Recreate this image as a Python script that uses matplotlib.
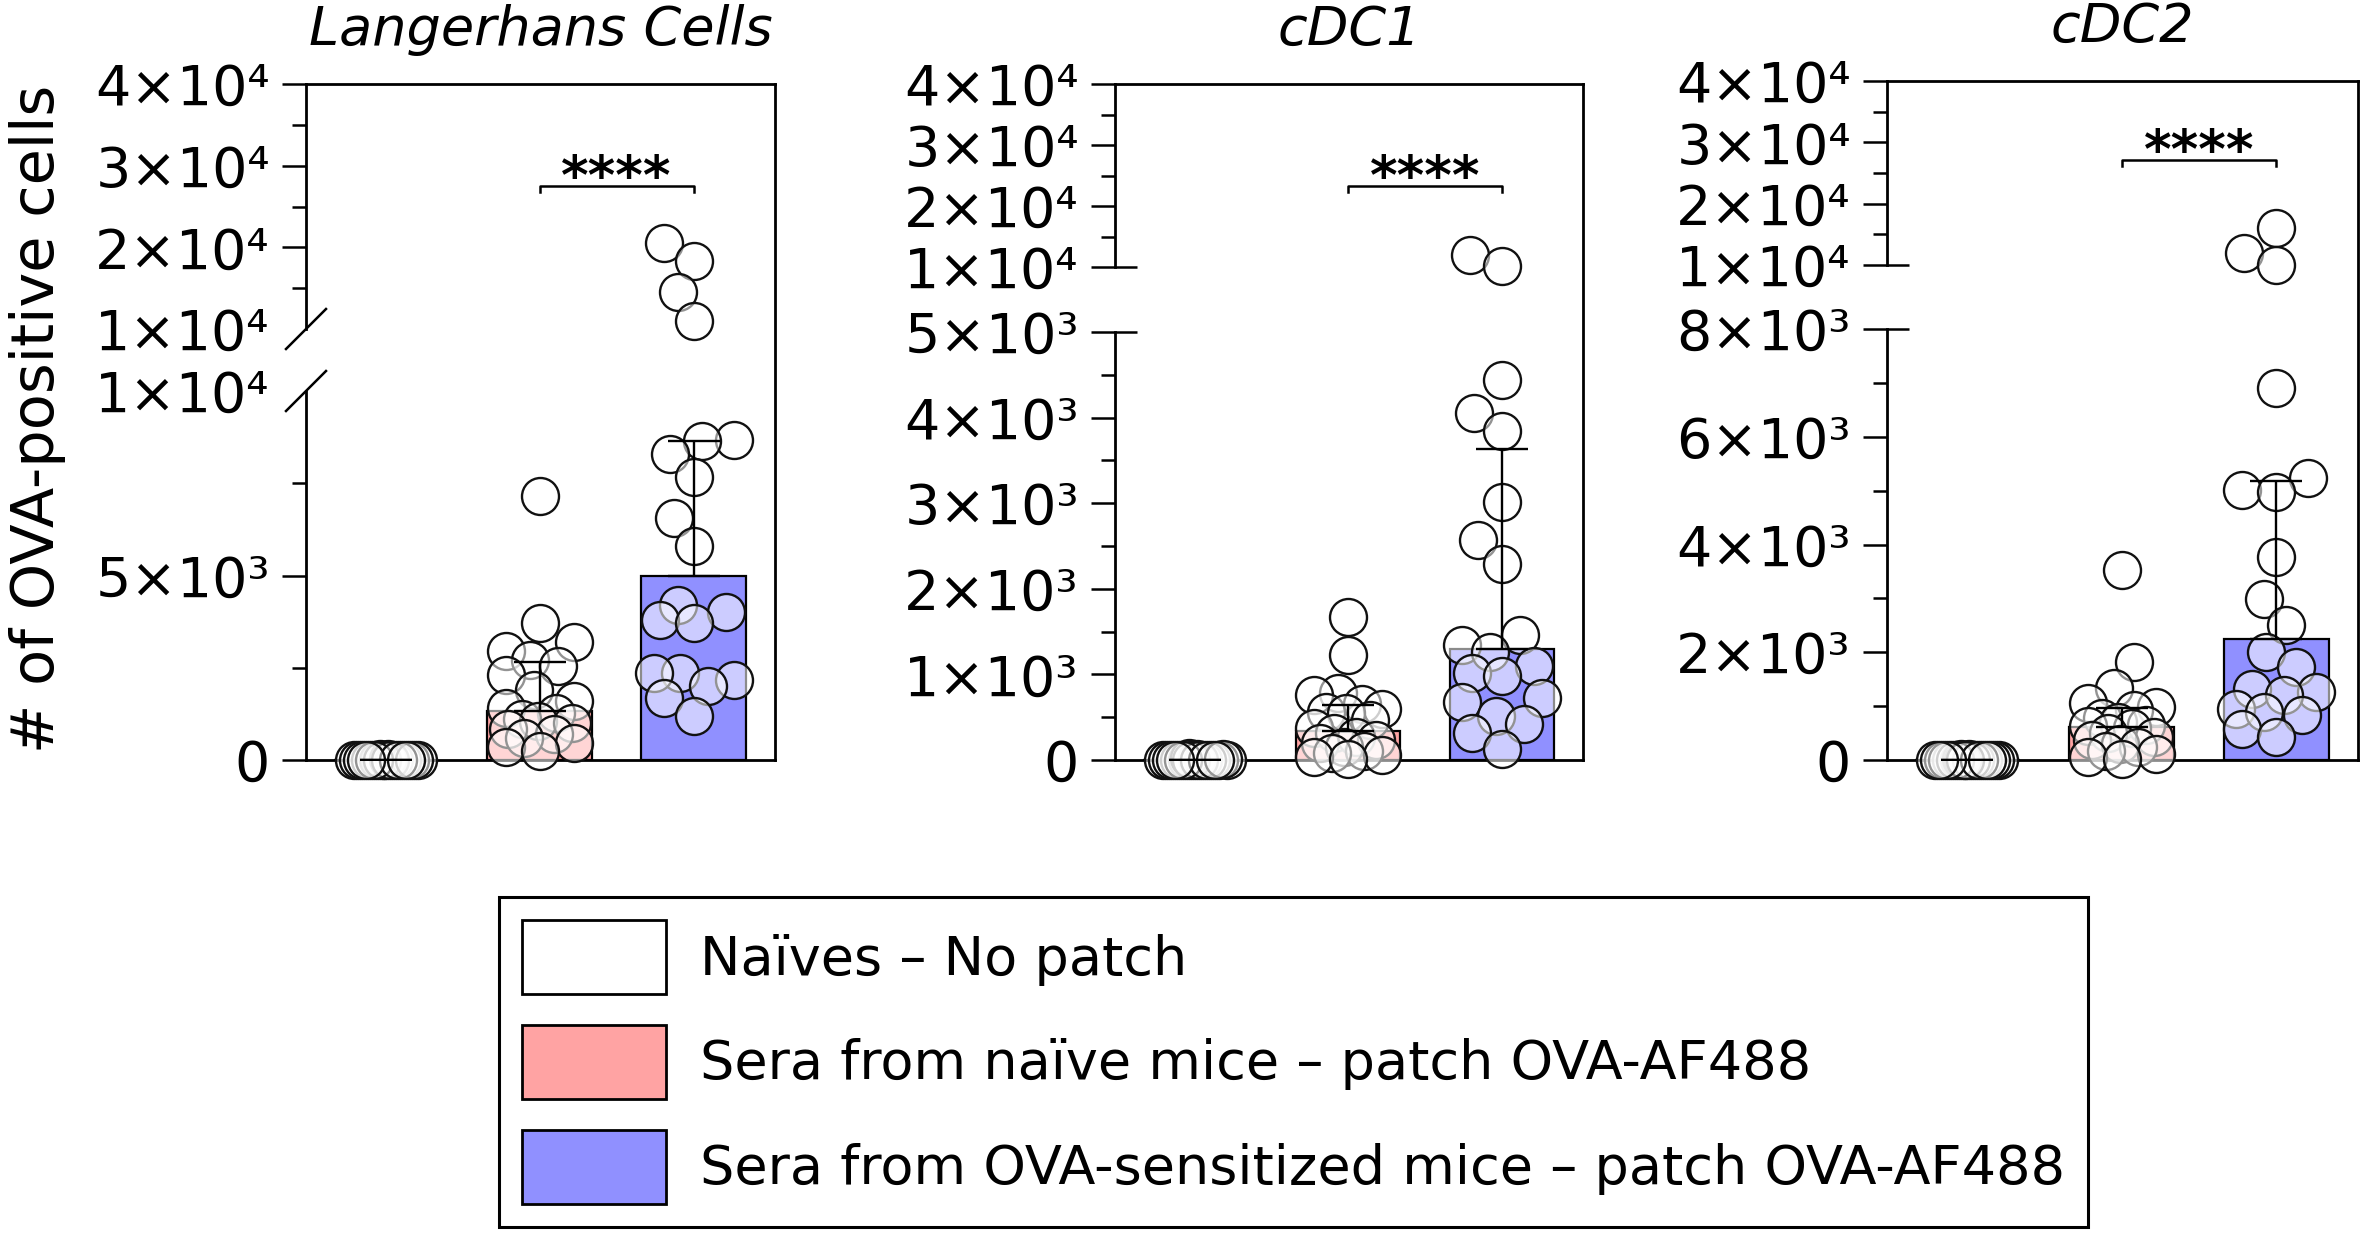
import numpy as np
import matplotlib
matplotlib.use("Agg")
import matplotlib.pyplot as plt
from matplotlib.patches import Patch

plt.rcParams['font.family'] = ['DejaVu Sans']

# ---------------- data ----------------
panels = ['Langerhans Cells', 'cDC1', 'cDC2']
groups = ['Naïves – No patch',
          'Sera from naïve mice – patch OVA-AF488',
          'Sera from OVA-sensitized mice – patch OVA-AF488']
bar_colors = ['#FFFFFF', '#FFA3A3', '#9090FF']
ylabel = '# of OVA-positive cells'
signif = '****'

lc_naive = [0, 0, 5, 0, 10, 0, 0, 20, 0, 0, 0, 15, 0, 0, 0, 0, 8, 0, 0, 0]
lc_sera_naive = [7160, 3700, 3200, 2950, 2700, 2550, 2300, 1900, 1600, 1400,
                 1280, 1100, 1050, 1000, 850, 700, 600, 450, 350, 250]
lc_sera_ova = [20540, 18360, 14530, 10930, 8660, 8640, 8300, 7670, 6560, 5810,
               4190, 4000, 3800, 3710, 2350, 2350, 2160, 2010, 1670, 1190]

cdc1_naive = [0, 10, 0, 0, 5, 0, 0, 0, 15, 0, 0, 0, 20, 0, 0, 0, 0, 8, 0, 0]
cdc1_sera_naive = [1672, 1225, 780, 758, 650, 600, 564, 548, 467, 370,
                   310, 272, 233, 200, 150, 100, 81, 60, 39, 10]
cdc1_sera_ova = [12020, 10210, 4435, 4053, 3841, 3014, 2568, 2292, 1465, 1345,
                 1260, 1103, 1019, 976, 721, 679, 509, 425, 319, 127]

cdc2_naive = [0, 0, 0, 12, 0, 0, 6, 0, 0, 0, 18, 0, 0, 0, 0, 9, 0, 0, 0, 0]
cdc2_sera_naive = [3526, 1825, 1330, 1052, 980, 928, 773, 700, 650, 640,
                   585, 495, 433, 380, 300, 240, 170, 110, 60, 20]
cdc2_sera_ova = [15955, 11930, 10000, 6900, 5240, 5011, 4978, 3773, 2992, 2500,
                 2000, 1722, 1320, 1266, 1200, 941, 891, 843, 583, 427]

panel_data = [[lc_naive, lc_sera_naive, lc_sera_ova],
              [cdc1_naive, cdc1_sera_naive, cdc1_sera_ova],
              [cdc2_naive, cdc2_sera_naive, cdc2_sera_ova]]

# axis break definition per panel: top of lower segment, bottom of upper segment
lower_top = [1e4, 5e3, 8e3]
upper_bottom = [1e4 + 1, 1e4, 1e4]
y_top = 4e4
lower_major = [[0, 5e3, 1e4], [0, 1e3, 2e3, 3e3, 4e3, 5e3], [0, 2e3, 4e3, 6e3, 8e3]]
lower_minor = [[2500, 7500], [500, 1500, 2500, 3500, 4500], [1e3, 3e3, 5e3, 7e3]]
upper_major = [2e4, 3e4, 4e4]
upper_minor = [1.5e4, 2.5e4, 3.5e4]
bracket_groups = (1, 2)

# ---------------- layout (pixels) ----------------
W, H, DPI = 2362, 1233, 100
boxes = [(306, 775, 84, 760), (1115, 1583, 84, 760), (1887, 2358, 81, 760)]
seg_px = [(391, 329), (332, 267), (329, 265)]   # pixel rows of lower-top / upper-bottom
bracket_px = [186, 186, 160]
XLIM = (-0.52, 2.53)

SUP = {'0': '⁰', '1': '¹', '2': '²', '3': '³', '4': '⁴', '5': '⁵'}


def fmt(v):
    if v == 0:
        return '0'
    e = int(np.floor(np.log10(v)))
    m = int(round(v / 10 ** e))
    return f'{m}×10' + ''.join(SUP[c] for c in str(e))


def make_scale(lo, hi, f_lo, f_hi, top):
    xp = np.array([0.0, lo, hi, top])
    fp = np.array([0.0, f_lo, f_hi, 1.0])
    s0 = f_lo / lo
    s1 = (1 - f_hi) / (top - hi)

    def fwd(v):
        v = np.asarray(v, dtype=float)
        out = np.interp(v, xp, fp)
        out = np.where(v < 0, v * s0, out)
        out = np.where(v > top, 1 + (v - top) * s1, out)
        return out

    def inv(f):
        f = np.asarray(f, dtype=float)
        out = np.interp(f, fp, xp)
        out = np.where(f < 0, f / s0, out)
        out = np.where(f > 1, top + (f - 1) / s1, out)
        return out
    return fwd, inv


def swarm(ypix, diam, max_off, step=2.0, thresh=0.9):
    cands = np.arange(0, max_off + 1e-6, step)
    cands = sorted(set(np.concatenate([cands, -cands]).tolist()), key=lambda c: (abs(c), c))
    order = np.argsort(ypix, kind='stable')
    placed = []
    offs = np.zeros(len(ypix))
    for i in order:
        chosen = None
        best_c, best_d = 0.0, -1.0
        for c in cands:
            if not placed:
                chosen = c
                break
            d = min(np.hypot(c - px, ypix[i] - py) for px, py in placed)
            if d >= diam * thresh:
                chosen = c
                break
            if d > best_d + 1e-9:
                best_d, best_c = d, c
        if chosen is None:
            chosen = best_c
        offs[i] = chosen
        placed.append((chosen, ypix[i]))
    return offs


fig = plt.figure(figsize=(W / DPI, H / DPI), dpi=DPI)

LW_SPINE = 2.0
LW_TICK = 1.8
MARK_D_PX = 37
bar_w = 0.68
swarm_width = [32, 35, 40]

for k, name in enumerate(panels):
    l, r, t, b = boxes[k]
    ax = fig.add_axes([l / W, 1 - b / H, (r - l) / W, (b - t) / H])
    aw, ah = r - l, b - t
    f_lo = (b - seg_px[k][0]) / ah
    f_hi = (b - seg_px[k][1]) / ah
    fwd, inv = make_scale(lower_top[k], upper_bottom[k], f_lo, f_hi, y_top)
    ax.set_yscale('function', functions=(fwd, inv))
    ax.set_ylim(0, y_top)
    ax.set_xlim(*XLIM)
    ax.set_xticks([])

    vals = [np.asarray(v, float) for v in panel_data[k]]
    med = np.array([np.median(v) for v in vals])
    q3 = np.array([np.percentile(v, 75, method='weibull') for v in vals])
    xs = np.arange(len(groups))

    ax.bar(xs, med, width=bar_w, color=bar_colors, edgecolor='black',
           linewidth=1.6, zorder=2)

    px_per_unit = aw / (XLIM[1] - XLIM[0])
    for g, v in enumerate(vals):
        ypix = ax.transData.transform(np.column_stack([np.full(len(v), g), v]))[:, 1]
        offs = swarm(ypix, MARK_D_PX, swarm_width[g])
        ax.scatter(g + offs / px_per_unit, v, s=(MARK_D_PX * 0.72) ** 2,
                   facecolor=(1, 1, 1, 0.55), edgecolor='#111111',
                   linewidth=1.7, zorder=3, clip_on=False)

    ax.errorbar(xs, med, yerr=[np.zeros(len(xs)), q3 - med], fmt='none',
                ecolor='black', elinewidth=1.7, capsize=19, capthick=1.7,
                zorder=5)

    # ticks
    maj = list(lower_major[k]) + [upper_bottom[k]] + upper_major
    ax.set_yticks(maj, labels=[fmt(round(v, -3) if v > 0 else 0) for v in maj])
    ax.set_yticks(list(lower_minor[k]) + upper_minor, minor=True)
    ax.tick_params(axis='y', which='major', length=17, width=LW_TICK,
                   labelsize=40, pad=9, direction='out')
    ax.tick_params(axis='y', which='minor', length=10, width=LW_TICK,
                   direction='out')

    for sp in ['top', 'right', 'bottom']:
        ax.spines[sp].set_linewidth(LW_SPINE)
    ax.spines['left'].set_visible(False)

    ytr = ax.get_yaxis_transform()
    ax.plot([0, 0], [0, lower_top[k]], transform=ytr, color='black',
            lw=LW_SPINE, clip_on=False, solid_capstyle='projecting', zorder=6)
    ax.plot([0, 0], [upper_bottom[k], y_top], transform=ytr, color='black',
            lw=LW_SPINE, clip_on=False, solid_capstyle='projecting', zorder=6)

    if k == 0:
        # diagonal break marks instead of ticks at the segment ends
        ticks = ax.yaxis.get_major_ticks()
        for i, v in enumerate(maj):
            if v in (lower_top[k], upper_bottom[k]):
                ticks[i].tick1line.set_visible(False)
        dx, dy = 20 / aw, 20 / ah
        for v in (lower_top[k], upper_bottom[k]):
            fy = float(fwd(v))
            ax.plot([-dx, dx], [fy - dy, fy + dy], transform=ax.transAxes,
                    color='black', lw=LW_TICK, clip_on=False, zorder=6)
    else:
        inner = 22 / aw
        for v in (lower_top[k], upper_bottom[k]):
            ax.plot([0, inner], [v, v], transform=ytr, color='black',
                    lw=LW_TICK, clip_on=False, solid_capstyle='butt', zorder=6)

    # significance bracket
    fy = (b - bracket_px[k]) / ah
    ybr = float(inv(fy))
    yend = float(inv(fy - 6 / ah))
    g1, g2 = bracket_groups
    ax.plot([g1, g1, g2, g2], [yend, ybr, ybr, yend], color='black', lw=1.8,
            zorder=6, clip_on=False)
    ax.annotate(signif, xy=((g1 + g2) / 2, ybr), xytext=(0, -6),
                textcoords='offset points', ha='center', va='baseline',
                fontsize=38, fontweight='bold')

    ax.set_title(name, style='italic', fontsize=39, pad=28)

    if k == 0:
        ax.set_ylabel(ylabel, fontsize=42.5, va='center')
        ax.yaxis.set_label_coords((37 - l) / aw, 0.505)

handles = [Patch(facecolor=c, edgecolor='black', linewidth=2) for c in bar_colors]
leg = fig.legend(handles, groups, loc='upper left',
                 bbox_to_anchor=(499 / W, 1 - 897 / H), bbox_transform=fig.transFigure,
                 fontsize=39, handlelength=2.66, handleheight=1.72,
                 handletextpad=0.62, borderpad=0.43, labelspacing=0.57,
                 borderaxespad=0, frameon=True, fancybox=False,
                 edgecolor='black', framealpha=1)
leg.get_frame().set_linewidth(2.2)

fig.savefig('out.png', dpi=DPI)
